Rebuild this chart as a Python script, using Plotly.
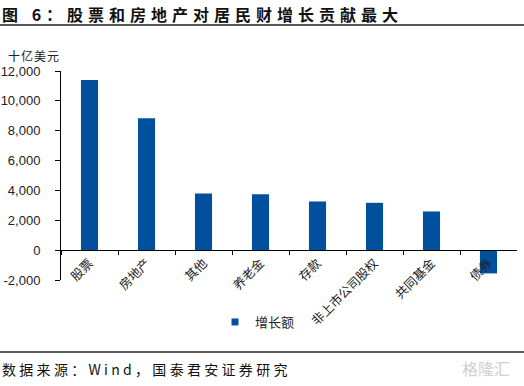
import plotly.graph_objects as go

# ---- data ----
categories = ["股票", "房地产", "其他", "养老金", "存款", "非上市公司股权", "共同基金", "债券"]
growth = [11400, 8830, 3800, 3750, 3260, 3170, 2590, -1560]
y_tick_values = [-2000, 0, 2000, 4000, 6000, 8000, 10000, 12000]
y_tick_labels = ["-2,000", "0", "2,000", "4,000", "6,000", "8,000", "10,000", "12,000"]
series_name = "增长额"
title_text = "图 6：股票和房地产对居民财增长贡献最大"
unit_text = "十亿美元"
source_text = "数据来源：Wind，国泰君安证券研究"

W, H = 524, 386
BAR = "#00509D"
CJK = "Noto Sans CJK SC"

def px_x(v):
    return v / W

def px_y(v):
    return 1 - v / H

fig = go.Figure()
fig.add_trace(go.Bar(x=categories, y=growth, marker=dict(color=BAR, line=dict(width=0)),
                     width=0.3, showlegend=False, name=series_name))
fig.add_trace(go.Scatter(x=[None], y=[None], mode="markers", name=series_name,
                         marker=dict(symbol="square", size=7, color=BAR)))

fig.update_layout(
    width=W, height=H, autosize=False,
    margin=dict(l=0, r=0, t=0, b=0, autoexpand=False),
    paper_bgcolor="white", plot_bgcolor="white",
    font=dict(family=CJK, color="#1a1a1a"),
    xaxis=dict(domain=[px_x(61), px_x(517)], anchor="free", position=px_y(250),
               range=[-0.5, 7.5], showline=True, linecolor="#000", linewidth=1,
               ticks="outside", ticklen=4, tickcolor="#000", tickson="boundaries",
               tickangle=-45, tickfont=dict(size=12.5, family=CJK, color="#222"),
               showgrid=False, zeroline=False, automargin=False),
    yaxis=dict(domain=[px_y(280), px_y(71)], range=[-2000, 12000],
               tickvals=y_tick_values, ticktext=y_tick_labels,
               showline=True, linecolor="#000", linewidth=1,
               ticks="outside", ticklen=5, tickcolor="#000",
               tickfont=dict(size=13, family="Liberation Sans", color="#222"),
               ticklabelstandoff=12, showgrid=False, zeroline=False, automargin=False),
    legend=dict(orientation="h", x=px_x(215), y=px_y(322), xanchor="left", yanchor="middle",
                font=dict(size=13, family=CJK, color="#222"), bgcolor="rgba(0,0,0,0)"),
    shapes=[
        dict(type="line", xref="paper", yref="paper", x0=0, x1=1, y0=px_y(25), y1=px_y(25),
             line=dict(color="#222", width=1.5)),
        dict(type="line", xref="paper", yref="paper", x0=0, x1=1, y0=px_y(352), y1=px_y(352),
             line=dict(color="#222", width=1.5)),
    ],
    annotations=[
        dict(text="<b><span style='letter-spacing:5px'>" + title_text + "</span></b>",
             xref="paper", yref="paper", x=0, y=px_y(14), xanchor="left", yanchor="middle",
             showarrow=False, font=dict(size=16, family=CJK, color="#111")),
        dict(text="<span style='letter-spacing:1px'>" + unit_text + "</span>",
             xref="paper", yref="paper", x=px_x(6), y=px_y(55),
             xanchor="left", yanchor="middle", showarrow=False,
             font=dict(size=12, family=CJK, color="#222")),
        dict(text="<span style='letter-spacing:3.3px'>" + source_text + "</span>",
             xref="paper", yref="paper", x=0, y=px_y(369), xanchor="left", yanchor="middle",
             showarrow=False, font=dict(size=14, family=CJK, color="#111")),
        dict(text="格隆汇", xref="paper", yref="paper", x=px_x(512), y=px_y(368),
             xanchor="right", yanchor="middle", showarrow=False,
             font=dict(size=16, family=CJK, color="#d0d0d0")),
    ],
)

fig.write_html("out.html", config={"displayModeBar": False},
               post_script="document.body.style.margin='0';document.body.style.overflow='hidden';")
